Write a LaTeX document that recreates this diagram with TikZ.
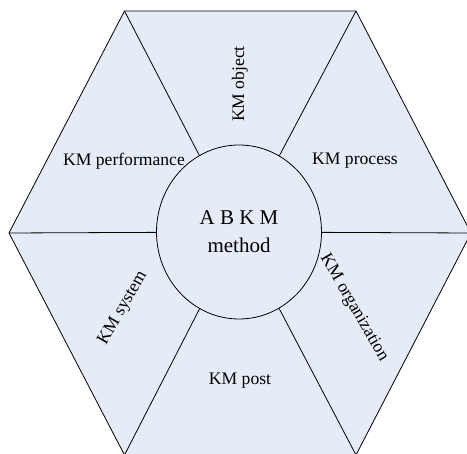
\documentclass[tikz,border=0pt]{standalone}
\usepackage{fontspec}
\setmainfont{Liberation Serif}
\usetikzlibrary{shapes.geometric}
\definecolor{hexfill}{RGB}{230,236,247}

\begin{document}
\begin{tikzpicture}[x=1pt,y=-1pt,
    every node/.style={font=\fontsize{17.6}{20}\selectfont},
    edge/.style={draw=black,line width=.8pt},
    sector/.style={inner sep=1pt},
    core/.style={ellipse,draw=black,line width=.8pt,fill=hexfill,minimum width=165pt,minimum height=174pt,inner sep=0pt,align=center,font=\fontsize{21}{28}\selectfont}]
  \useasboundingbox (0,0) rectangle (467,454);
  \clip (0,0) rectangle (467,454);
  \coordinate (l) at (9,233);
  \coordinate (tl) at (124.5,11);
  \coordinate (tr) at (356,11);
  \coordinate (r) at (471,233);
  \coordinate (br) at (356,455);
  \coordinate (bl) at (124.5,455);
  \filldraw[edge,fill=hexfill] (l) -- (tl) -- (tr) -- (r) -- (br) -- (bl) -- cycle;
  \node[core] (abkm) at (239,232) {A B K M\\method};
  \draw[edge] (l) -- (abkm); \draw[edge] (r) -- (abkm);
  \draw[edge] (tl) -- (abkm); \draw[edge] (tr) -- (abkm);
  \draw[edge] (bl) -- (abkm); \draw[edge] (br) -- (abkm);
  \node[sector] (obj) at (240,84) [rotate=90] {KM object};
  \node[sector] (perf) at (124,161) {KM performance};
  \node[sector] (proc) at (355,161) {KM process};
  \node[sector] (sys) at (123,308) [rotate=60] {KM system};
  \node[sector] (org) at (354,308) [rotate=-60] {KM organization};
  \node[sector] (post) at (240,381) {KM post};
\end{tikzpicture}
\end{document}
